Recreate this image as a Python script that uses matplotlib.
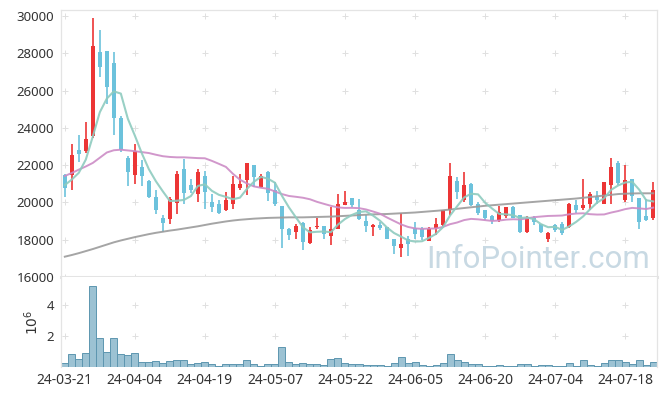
import numpy as np
import matplotlib
matplotlib.use('Agg')
import matplotlib.pyplot as plt

plt.rcParams['font.family'] = ['Noto Sans', 'DejaVu Sans']

# daily prices, 85 trading days (24-03-21 .. 24-07-24)
opens = [21460, 21460, 22790, 22750, 23560, 28050, 28100, 27490, 24540, 22360,
         21460, 21890, 21160, 20280, 19140, 19120, 19980, 21800, 20930, 20430,
         21410, 20010, 19940, 19580, 19940, 20750, 21230, 22000, 20840, 21620,
         20660, 19800, 18560, 18420, 18900, 17830, 18690, 18760, 18210, 18560,
         19870, 20260, 19620, 18990, 18690, 18780, 18690, 18060, 17580, 18030,
         18640, 18600, 17940, 18640, 18780, 19580, 21140, 20120, 20980, 19890,
         19580, 19260, 19050, 19260, 19760, 19320, 18420, 19140, 18830, 18060,
         18780, 18870, 18690, 19850, 19710, 19890, 20300, 19940, 20930, 22090,
         20120, 21280, 20260, 19280, 19140]
highs = [21500, 23140, 23630, 24330, 29910, 29250, 28140, 28070, 24630, 22480,
         23140, 22250, 21230, 20690, 19300, 20280, 21710, 22320, 21250, 21820,
         21700, 20430, 20120, 20570, 21430, 21520, 22110, 22000, 21500, 21700,
         21110, 19800, 18650, 18870, 18960, 18690, 19190, 18760, 19760, 20440,
         20620, 20260, 20160, 19320, 18870, 18960, 18690, 18060, 19410, 18190,
         18940, 18690, 18690, 19170, 19620, 22090, 21370, 21640, 21020, 20030,
         19620, 19300, 19800, 19760, 19800, 19320, 19260, 19260, 18830, 18420,
         18830, 18960, 19980, 20120, 21280, 20570, 20600, 21110, 22410, 22230,
         22000, 21280, 20260, 20210, 21070]
lows = [20300, 20690, 22160, 22660, 23470, 26720, 25260, 23610, 22720, 20870,
        21010, 20870, 20230, 19400, 18420, 18850, 19400, 19940, 20480, 20030,
        19670, 19490, 19400, 19530, 19670, 20690, 20390, 20840, 20800, 20090,
        19820, 17560, 17970, 18040, 17470, 17760, 18560, 18040, 17700, 18550,
        19870, 19760, 19080, 18420, 18190, 18510, 18030, 17220, 17080, 17130,
        18060, 17970, 17940, 18240, 18720, 19320, 20160, 20030, 19820, 19350,
        19050, 18870, 18960, 19190, 19140, 18370, 18370, 18780, 18370, 17880,
        18420, 18240, 18650, 19410, 19620, 19580, 19900, 19910, 19940, 20930,
        20030, 20030, 18600, 19010, 19080]
closes = [20750, 22540, 22610, 23430, 28370, 27260, 26190, 24540, 22840, 21620,
          22750, 21410, 20300, 19620, 18880, 20160, 21500, 20510, 20660, 21610,
          20570, 19760, 19440, 20120, 20980, 20980, 22110, 21370, 21410, 20510,
          19890, 18600, 18260, 18720, 17880, 18510, 18760, 18330, 18550, 19910,
          20010, 19850, 19120, 18720, 18780, 18620, 18030, 17650, 17760, 17760,
          18300, 18120, 18560, 18830, 19580, 21410, 20570, 20930, 19850, 19410,
          19170, 19010, 19490, 19730, 19170, 18420, 19190, 18960, 18420, 18370,
          18510, 18370, 19910, 19620, 19850, 20440, 20150, 21070, 21880, 21020,
          21230, 20340, 18960, 19050, 20690]

# volume in millions
volumes = [0.26, 0.82, 0.52, 0.88, 5.23, 1.85, 0.97, 1.85, 0.84, 0.75,
           0.88, 0.32, 0.32, 0.39, 0.26, 0.39, 0.45, 0.45, 0.19, 0.26,
           0.32, 0.19, 0.06, 0.17, 0.17, 0.17, 0.45, 0.17, 0.04, 0.17,
           0.17, 1.27, 0.32, 0.17, 0.24, 0.17, 0.17, 0.11, 0.49, 0.56,
           0.24, 0.17, 0.17, 0.11, 0.11, 0.11, 0.04, 0.24, 0.62, 0.24,
           0.30, 0.11, 0.04, 0.11, 0.24, 0.82, 0.45, 0.30, 0.17, 0.17,
           0.04, 0.04, 0.11, 0.04, 0.04, 0.17, 0.17, 0.04, 0.11, 0.11,
           0.04, 0.04, 0.24, 0.04, 0.43, 0.11, 0.04, 0.24, 0.43, 0.43,
           0.30, 0.17, 0.43, 0.11, 0.30]

# moving averages as shown on the chart
ma5 = [20930, 21230, 21590, 22300, 23540, 24842, 25572, 25958, 25840, 24490,
       23588, 22632, 21784, 21140, 20592, 20074, 20092, 20134, 20342, 20888,
       20970, 20622, 20408, 20300, 20174, 20256, 20726, 21112, 21370, 21276,
       21058, 20356, 19734, 19196, 18670, 18394, 18426, 18440, 18406, 18812,
       19112, 19330, 19488, 19522, 19296, 19018, 18654, 18360, 18168, 17964,
       17900, 17918, 18100, 18314, 18678, 19300, 19790, 20264, 20468, 20434,
       19986, 19674, 19386, 19362, 19314, 19164, 19200, 19094, 18832, 18672,
       18690, 18526, 18716, 18956, 19252, 19638, 19994, 20226, 20678, 20912,
       21070, 21108, 20686, 20120, 20054]
ma20 = [21420, 21580, 21760, 21930, 22120, 22400, 22680, 22800, 22830, 22790,
        22750, 22700, 22650, 22560, 22480, 22440, 22420, 22420, 22400, 22378,
        22369, 22230, 22071, 21906, 21536, 21222, 21018, 20860, 20788, 20733,
        20590, 20449, 20347, 20302, 20252, 20170, 20033, 19924, 19818, 19733,
        19705, 19710, 19694, 19624, 19514, 19396, 19192, 19006, 18823, 18686,
        18606, 18582, 18597, 18603, 18688, 18833, 18923, 19053, 19118, 19093,
        19051, 19009, 19028, 19078, 19098, 19088, 19146, 19211, 19244, 19275,
        19285, 19298, 19365, 19405, 19418, 19370, 19349, 19356, 19457, 19538,
        19641, 19707, 19681, 19647, 19723]
ma60 = [17090, 17180, 17280, 17390, 17500, 17620, 17740, 17860, 17960, 18050,
        18140, 18220, 18300, 18370, 18430, 18490, 18540, 18600, 18660, 18720,
        18790, 18860, 18920, 18980, 19030, 19070, 19100, 19130, 19150, 19170,
        19180, 19190, 19200, 19200, 19200, 19210, 19220, 19230, 19240, 19260,
        19280, 19300, 19320, 19340, 19360, 19370, 19380, 19400, 19420, 19440,
        19460, 19490, 19520, 19550, 19580, 19620, 19660, 19700, 19740, 19780,
        19820, 19850, 19880, 19910, 19940, 19970, 20000, 20030, 20060, 20090,
        20120, 20150, 20180, 20210, 20250, 20290, 20330, 20370, 20410, 20450,
        20470, 20480, 20490, 20490, 20490]

tick_labels = ['24-03-21', '24-04-04', '24-04-19', '24-05-07', '24-05-22',
               '24-06-05', '24-06-20', '24-07-04', '24-07-18']
price_ticks = [16000, 18000, 20000, 22000, 24000, 26000, 28000, 30000]
vol_ticks = [2, 4]

RED = '#ec3535'
BLUE = '#6cc2dc'
FRAME = '#e4e4e4'
TXT = '#333333'

W, H = 665, 396
fig = plt.figure(figsize=(W / 100, H / 100), dpi=100)
left, right = 61.3, 656.7
ax = fig.add_axes([left / W, 1 - 277 / H, (right - left) / W, 267 / H])
axv = fig.add_axes([left / W, 1 - 367 / H, (right - left) / W, 90 / H], sharex=ax)

o = np.array(opens)
c = np.array(closes)
x = np.arange(len(c))
cols = np.where(c >= o, RED, BLUE)

########################
# price panel

xg, yg = np.meshgrid(np.arange(0, len(c), 10), price_ticks)
ax.scatter(xg.ravel(), yg.ravel(), marker='+', s=16, c='#e0e0e0', linewidths=0.7, zorder=1)

ax.text(0.989, 0.035, 'InfoPointer.com', transform=ax.transAxes, ha='right', va='baseline',
        fontsize=22.5, color='#c8d9e3', family=['Roboto', 'DejaVu Sans'], zorder=0)

ax.vlines(x, lows, highs, colors=cols, linewidth=1.2, zorder=2)
ax.bar(x, np.maximum(np.abs(c - o), 40), bottom=np.minimum(o, c), width=0.64,
       color=cols, zorder=3)

ax.plot(x, ma60, color='#9b9b9b', lw=1.4, alpha=0.9, zorder=4)
ax.plot(x, ma20, color='#cc8cc6', lw=1.4, alpha=0.9, zorder=4)
ax.plot(x, ma5, color='#8ecbbf', lw=1.5, alpha=0.9, zorder=5)

ax.set_xlim(-0.5, len(c) - 0.5)
ax.set_ylim(16000, 30324)
ax.set_yticks(price_ticks)
ax.tick_params(axis='y', length=0, labelsize=9.5, colors=TXT, pad=5)
ax.tick_params(axis='x', length=0, labelbottom=False)
for s in ['left', 'right', 'top']:
    ax.spines[s].set_color(FRAME)
    ax.spines[s].set_linewidth(0.9)
ax.spines['bottom'].set_color(FRAME)
ax.spines['bottom'].set_linewidth(2.2)

########################
# volume panel

xg, yg = np.meshgrid(np.arange(0, len(c), 10), vol_ticks)
axv.scatter(xg.ravel(), yg.ravel(), marker='+', s=16, c='#e0e0e0', linewidths=0.7, zorder=1)
axv.bar(x, volumes, width=1.0, color='#9cc2d3', edgecolor='#5d96b0', linewidth=0.7, zorder=2)
axv.set_ylim(0, 5.8)
axv.set_yticks(vol_ticks)
axv.set_xticks(np.arange(0, len(c), 10))
axv.set_xticklabels(tick_labels)
axv.tick_params(axis='y', length=0, labelsize=9.5, colors=TXT, pad=5)
axv.tick_params(axis='x', length=0, labelsize=10, colors=TXT, pad=4)
axv.spines['top'].set_visible(False)
axv.spines['bottom'].set_visible(False)
for s in ['left', 'right']:
    axv.spines[s].set_color(FRAME)
    axv.spines[s].set_linewidth(0.9)

fig.text(33 / W, 1 - 322 / H, '$10^{6}$', rotation=90, ha='center', va='center',
         fontsize=10, color=TXT)

plt.savefig('out.png', dpi=100)
plt.close()
